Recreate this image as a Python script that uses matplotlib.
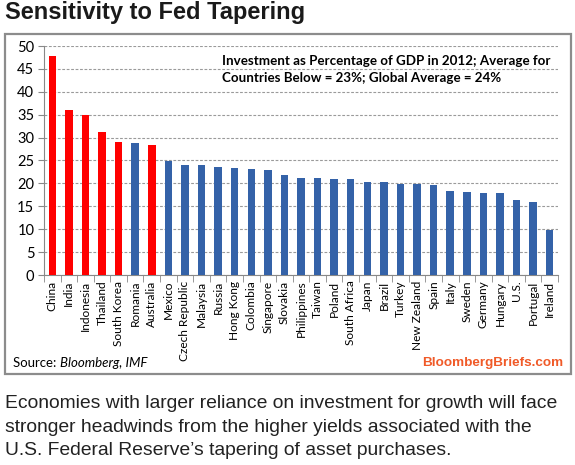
import numpy as np
import matplotlib
matplotlib.use("Agg")
import matplotlib.pyplot as plt
from matplotlib.patches import Rectangle

# ── data ────────────────────────────────────────────────────────────────
countries = ["China", "India", "Indonesia", "Thailand", "South Korea", "Romania",
             "Australia", "Mexico", "Czech Republic", "Malaysia", "Russia",
             "Hong Kong", "Colombia", "Singapore", "Slovakia", "Philippines",
             "Taiwan", "Poland", "South Africa", "Japan", "Brazil", "Turkey",
             "New Zealand", "Spain", "Italy", "Sweden", "Germany", "Hungary",
             "U.S.", "Portugal", "Ireland"]
invest_pct = [47.8, 36.1, 34.9, 31.3, 29.0, 28.9, 28.4, 24.9, 24.1, 24.0, 23.6,
              23.3, 23.1, 22.9, 21.9, 21.2, 21.1, 21.0, 21.0, 20.3, 20.2, 19.9,
              19.9, 19.7, 18.4, 18.2, 18.0, 17.9, 16.3, 16.0, 9.9]
highlight = ["China", "India", "Indonesia", "Thailand", "South Korea", "Australia"]

caption_lines = ["Economies with larger reliance on investment for growth will face",
                 "stronger headwinds from the higher yields associated with the",
                 "U.S. Federal Reserve\u2019s tapering of asset purchases."]

RED  = "#ff0000"
BLUE = "#3462a8"
W, H = 575, 465

fig = plt.figure(figsize=(W / 100, H / 100), dpi=100)

def fx(px):
    return px / W

def fy(py):
    return 1 - py / H

# outer chart box
fig.add_artist(Rectangle((fx(5), fy(374)), fx(571) - fx(5), fy(34) - fy(374),
                         transform=fig.transFigure, fill=False,
                         edgecolor="#8c8c8c", lw=1.6))

ax = fig.add_axes([fx(44), fy(275), fx(558) - fx(44), fy(46) - fy(275)])
x = np.arange(len(countries))
cols = [RED if c in highlight else BLUE for c in countries]
ax.bar(x, invest_pct, width=0.45, color=cols, zorder=3)

ax.set_xlim(-0.5, len(countries) - 0.5)
ax.set_ylim(0, 50)
ax.set_yticks(np.arange(0, 51, 5))
ax.tick_params(axis="y", labelsize=10.5, length=4, color="#888888", pad=3)
for lbl in ax.get_yticklabels():
    lbl.set_family("Lato")

ax.set_xticks(x)
ax.set_xticklabels(countries, rotation=90, fontsize=8.6, family="Lato")
ax.tick_params(axis="x", length=0, pad=4)
ax.set_xticks(np.arange(-0.5, len(countries), 1), minor=True)
ax.tick_params(axis="x", which="minor", length=5, color="#888888")

ax.yaxis.grid(True, ls=(0, (2.5, 1.5)), color="#9a9a9a", lw=0.8)
ax.set_axisbelow(True)
for s in ["top", "right"]:
    ax.spines[s].set_visible(False)
for s in ["left", "bottom"]:
    ax.spines[s].set_color("#888888")

fig.text(fx(222), fy(61), "Investment as Percentage of GDP in 2012; Average for",
         fontsize=9.65, weight="bold", family="Lato", va="center", ha="left")
fig.text(fx(222), fy(78), "Countries Below = 23%; Global Average = 24%",
         fontsize=9.65, weight="bold", family="Lato", va="center", ha="left")

# title
fig.text(fx(5), fy(13), "Sensitivity to Fed Tapering", fontsize=17,
         weight="bold", family="Liberation Sans", color="#1a1a1a",
         va="center", ha="left")

# source line: plain "Source:" followed by italic names
src = fig.text(fx(13), fy(363), "Source: ", fontsize=9.5, family="Lato",
               va="center", ha="left")
ax.annotate("Bloomberg, IMF", xy=(1, 0.5), xycoords=src, fontsize=9.5,
            family="Lato", style="italic", va="center", ha="left",
            annotation_clip=False)

fig.text(fx(563), fy(363), "BloombergBriefs.com", fontsize=9.7, weight="bold",
         family="Liberation Sans", color="#f05a28", va="center", ha="right")

# caption below the box
for i, line in enumerate(caption_lines):
    fig.text(fx(5), fy(404 + 23 * i), line, fontsize=13.9,
             family="Liberation Sans", color="#222222", va="center", ha="left")

fig.savefig("out.png", dpi=100)
